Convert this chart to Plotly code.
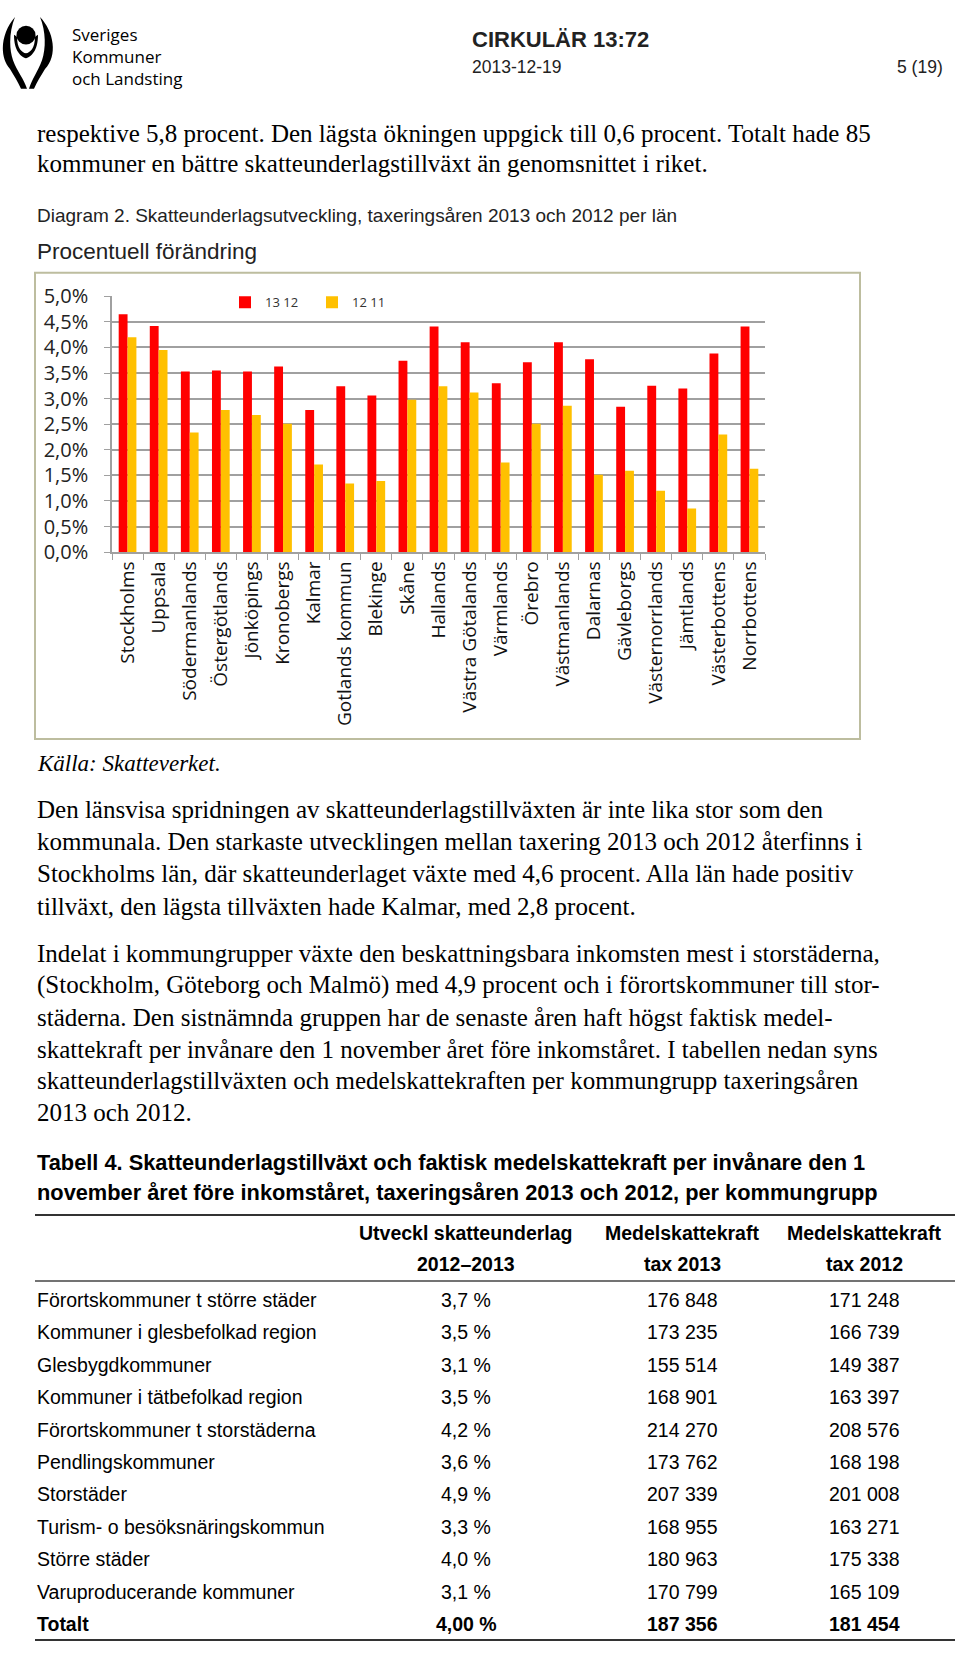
import plotly.graph_objects as go

W, H = 960, 1656

# ---------------- data ----------------
lan = ["Stockholms", "Uppsala", "Södermanlands", "Östergötlands", "Jönköpings",
       "Kronobergs", "Kalmar", "Gotlands kommun", "Blekinge", "Skåne", "Hallands",
       "Västra Götalands", "Värmlands", "Örebro", "Västmanlands", "Dalarnas",
       "Gävleborgs", "Västernorrlands", "Jämtlands", "Västerbottens", "Norrbottens"]
serie_13_12 = [4.65, 4.42, 3.53, 3.55, 3.53, 3.63, 2.78, 3.24, 3.06, 3.74, 4.41,
               4.10, 3.30, 3.71, 4.10, 3.77, 2.84, 3.25, 3.20, 3.88, 4.41]
serie_12_11 = [4.20, 3.95, 2.34, 2.78, 2.68, 2.51, 1.71, 1.34, 1.39, 2.98, 3.24,
               3.12, 1.75, 2.51, 2.86, 1.51, 1.59, 1.20, 0.85, 2.30, 1.63]
series_names = ["13 12", "12 11"]
y_ticks = [0, 0.5, 1.0, 1.5, 2.0, 2.5, 3.0, 3.5, 4.0, 4.5, 5.0]
y_tick_labels = ["0,0%", "0,5%", "1,0%", "1,5%", "2,0%", "2,5%", "3,0%", "3,5%",
                 "4,0%", "4,5%", "5,0%"]

table_groups = ["Förortskommuner t större städer", "Kommuner i glesbefolkad region",
                "Glesbygdkommuner", "Kommuner i tätbefolkad region",
                "Förortskommuner t storstäderna", "Pendlingskommuner", "Storstäder",
                "Turism- o besöksnäringskommun", "Större städer",
                "Varuproducerande kommuner", "Totalt"]
table_utveckl = ["3,7 %", "3,5 %", "3,1 %", "3,5 %", "4,2 %", "3,6 %", "4,9 %",
                 "3,3 %", "4,0 %", "3,1 %", "4,00 %"]
table_kraft_2013 = ["176 848", "173 235", "155 514", "168 901", "214 270", "173 762",
                    "207 339", "168 955", "180 963", "170 799", "187 356"]
table_kraft_2012 = ["171 248", "166 739", "149 387", "163 397", "208 576", "168 198",
                    "201 008", "163 271", "175 338", "165 109", "181 454"]
table_headers_1 = ["Utveckl skatteunderlag", "Medelskattekraft", "Medelskattekraft"]
table_headers_2 = ["2012\u20132013", "tax 2013", "tax 2012"]

logo_lines = ["Sveriges", "Kommuner", "och Landsting"]
intro_lines = ["respektive 5,8 procent. Den lägsta ökningen uppgick till 0,6 procent. Totalt hade 85",
               "kommuner en bättre skatteunderlagstillväxt än genomsnittet i riket."]
para1_lines = ["Den länsvisa spridningen av skatteunderlagstillväxten är inte lika stor som den",
               "kommunala. Den starkaste utvecklingen mellan taxering 2013 och 2012 återfinns i",
               "Stockholms län, där skatteunderlaget växte med 4,6 procent. Alla län hade positiv",
               "tillväxt, den lägsta tillväxten hade Kalmar, med 2,8 procent."]
para2_lines = ["Indelat i kommungrupper växte den beskattningsbara inkomsten mest i storstäderna,",
               "(Stockholm, Göteborg och Malmö) med 4,9 procent och i förortskommuner till stor-",
               "städerna. Den sistnämnda gruppen har de senaste åren haft högst faktisk medel-",
               "skattekraft per invånare den 1 november året före inkomståret. I tabellen nedan syns",
               "skatteunderlagstillväxten och medelskattekraften per kommungrupp taxeringsåren",
               "2013 och 2012."]

# ---------------- helpers ----------------
def px(x):
    return x / W


def py(y):
    return 1 - y / H


SERIF = "Liberation Serif"
SANS = "Liberation Sans"
CHART = "Open Sans"

annotations = []
shapes = []


def text(x, y, s, size, family=SERIF, color="#000", xanchor="left", bold=False, italic=False):
    if bold:
        s = "<b>" + s + "</b>"
    if italic:
        s = "<i>" + s + "</i>"
    annotations.append(dict(x=px(x), y=py(y), xref="paper", yref="paper", text=s,
                            showarrow=False, xanchor=xanchor, yanchor="middle",
                            align="left", font=dict(family=family, size=size, color=color)))


def hline(x0, x1, y, width, color):
    shapes.append(dict(type="line", xref="paper", yref="paper", x0=px(x0), x1=px(x1),
                       y0=py(y), y1=py(y), line=dict(color=color, width=width)))


def path(points_cmds):
    out = []
    for cmd, pts in points_cmds:
        coords = " ".join(f"{px(a):.5f},{py(b):.5f}" for a, b in pts)
        out.append(cmd + coords)
    return " ".join(out) + " Z"


# ---------------- figure ----------------
fig = go.Figure()
fig.add_trace(go.Bar(x=lan, y=serie_13_12, name=series_names[0], marker_color="#FF0000",
                     marker_line_width=0))
fig.add_trace(go.Bar(x=lan, y=serie_12_11, name=series_names[1], marker_color="#FFC000",
                     marker_line_width=0))

# chart frame
shapes.append(dict(type="rect", xref="paper", yref="paper", x0=px(35), x1=px(860),
                   y0=py(737), y1=py(263), line=dict(color="#bdbd9f", width=2),
                   layer="below"))

# logo symbol (approximation)
shapes.append(dict(type="circle", xref="paper", yref="paper", x0=px(16.5), x1=px(35.5),
                   y0=py(31), y1=py(12), fillcolor="#000", line=dict(width=0)))
shapes.append(dict(type="path", xref="paper", yref="paper", fillcolor="#000", line=dict(width=0),
                   path=path([("M", [(15, 3)]), ("C", [(2, 18), (-2, 42), (10, 56)]),
                              ("C", [(14, 63), (18, 69), (21, 76)]), ("L", [(27, 76)]),
                              ("C", [(24, 66), (17, 58), (13, 47)]),
                              ("C", [(9, 35), (9, 18), (15, 3)])])))
shapes.append(dict(type="path", xref="paper", yref="paper", fillcolor="#000", line=dict(width=0),
                   path=path([("M", [(40, 3)]), ("C", [(54, 18), (58, 42), (45, 56)]),
                              ("C", [(41, 63), (37, 69), (34, 76)]), ("L", [(29, 76)]),
                              ("C", [(32, 66), (38, 58), (42, 47)]),
                              ("C", [(46, 35), (46, 18), (40, 3)])])))
shapes.append(dict(type="path", xref="paper", yref="paper", fillcolor="#000", line=dict(width=0),
                   path=path([("M", [(14, 21)]), ("C", [(14, 38), (21, 43), (26, 45)]),
                              ("C", [(31, 43), (38, 38), (38, 21)]), ("L", [(35, 23)]),
                              ("C", [(35, 35), (30, 39), (26, 40)]),
                              ("C", [(22, 39), (17, 35), (17, 23)])])))
shapes.append(dict(type="path", xref="paper", yref="paper", fillcolor="#000", line=dict(width=0),
                   path=path([("M", [(24, 42)]), ("L", [(28, 42), (27.5, 62), (24.5, 62)])])))

# header
text(70, 43, "<br>".join(logo_lines), 17, family=CHART)
text(470, 26, "CIRKULÄR 13:72", 22, family=SANS, bold=True, color="#222")
text(470, 54, "2013-12-19", 17.5, family=SANS, color="#222")
text(945, 54, "5 (19)", 17.5, family=SANS, color="#222", xanchor="right")

# body text
BODY = 25
for i, s in enumerate(intro_lines):
    text(35, [121, 152][i], s, BODY)
text(35, 205, "Diagram 2. Skatteunderlagsutveckling, taxeringsåren 2013 och 2012 per län", 19,
     family=SANS, color="#222")
text(35, 241, "Procentuell förändring", 22.5, family=SANS, color="#222")
text(35, 762, "Källa: Skatteverket.", 23, italic=True)
for i, s in enumerate(para1_lines):
    text(35, 809 + i * 32.6, s, BODY)
for i, s in enumerate(para2_lines):
    text(35, 955 + i * 32.4, s, BODY)

TITLE = 21.8
text(35, 1168, "Tabell 4. Skatteunderlagstillväxt och faktisk medelskattekraft per invånare den 1",
     TITLE, family=SANS, bold=True)
text(35, 1198, "november året före inkomståret, taxeringsåren 2013 och 2012, per kommungrupp",
     TITLE, family=SANS, bold=True)

# table
TAB = 19.5
hline(35, 955, 1221, 2, "#333")
hline(35, 955, 1288, 1.5, "#444")
hline(35, 955, 1653, 2, "#333")
col_x = [466, 682, 864]
for j in range(3):
    text(col_x[j], 1239, table_headers_1[j], TAB, family=SANS, bold=True, xanchor="center")
    text(col_x[j], 1271, table_headers_2[j], TAB, family=SANS, bold=True, xanchor="center")
for i in range(len(table_groups)):
    yv = 1307 + i * 33
    b = table_groups[i] == "Totalt"
    text(35, yv, table_groups[i], TAB, family=SANS, bold=b)
    text(col_x[0], yv, table_utveckl[i], TAB, family=SANS, bold=b, xanchor="center")
    text(col_x[1], yv, table_kraft_2013[i], TAB, family=SANS, bold=b, xanchor="center")
    text(col_x[2], yv, table_kraft_2012[i], TAB, family=SANS, bold=b, xanchor="center")

fig.update_layout(
    width=W, height=H, margin=dict(l=0, r=0, t=0, b=0),
    paper_bgcolor="white", plot_bgcolor="white",
    barmode="group", bargap=0.43, bargroupgap=0,
    showlegend=True,
    legend=dict(orientation="h", x=px(225), y=py(293), xanchor="left", yanchor="middle",
                font=dict(family=CHART, size=13, color="#333"), bgcolor="rgba(0,0,0,0)",
                entrywidth=42, tracegroupgap=0),
    xaxis=dict(domain=[px(112), px(765)], type="category", tickangle=-90,
               tickfont=dict(family=CHART, size=19, color="#111"),
               showline=True, linecolor="#a0a0a0", linewidth=1.5,
               ticks="outside", tickson="boundaries", ticklen=6, tickcolor="#a0a0a0",
               showgrid=False, fixedrange=True),
    yaxis=dict(domain=[py(547), py(287)], range=[0, 5], tickvals=y_ticks,
               ticktext=y_tick_labels, tickfont=dict(family=CHART, size=20, color="#222"),
               showline=True, linecolor="#a0a0a0", linewidth=1.5,
               showgrid=True, gridcolor="#a0a0a0", gridwidth=1.5,
               ticks="outside", ticklen=6, tickcolor="#a0a0a0", zeroline=False,
               ticklabelstandoff=12, fixedrange=True),
    annotations=annotations, shapes=shapes,
)

fig.write_html("out.html", config={"displayModeBar": False},
               post_script="document.body.style.margin='0';")
